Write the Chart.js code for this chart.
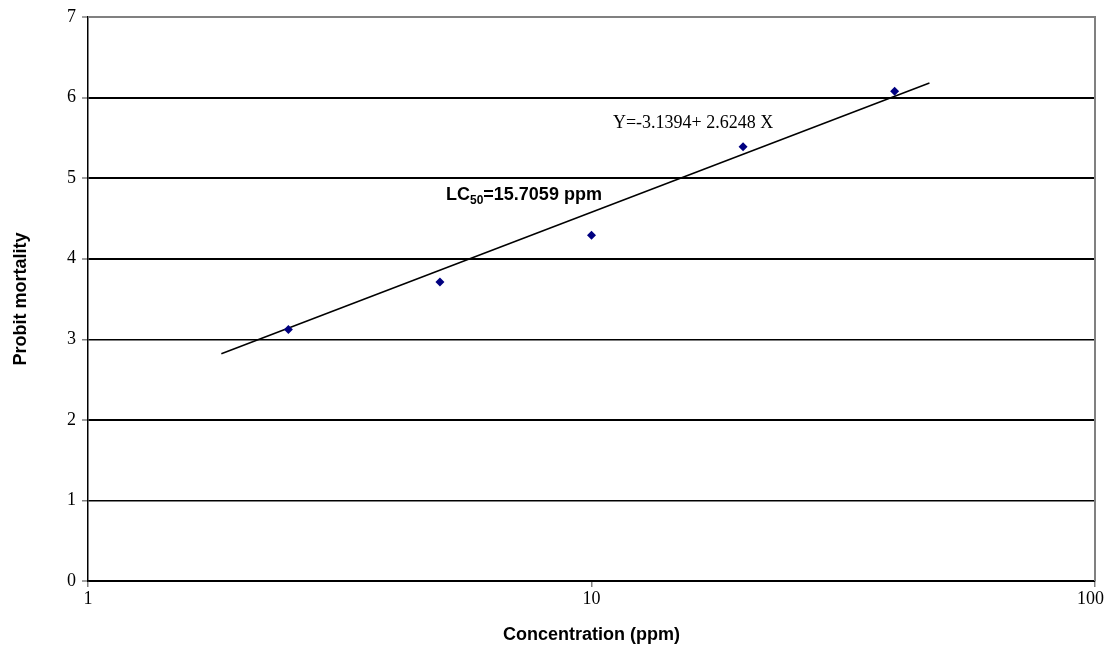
<!DOCTYPE html>
<html>
<head>
<meta charset="utf-8">
<script src="https://cdn.jsdelivr.net/npm/chart.js@4.4.1/dist/chart.umd.min.js"></script>
<style>
html,body{margin:0;padding:0;background:#fff;}
#wrap{width:1105px;height:646px;position:relative;}
</style>
</head>
<body>
<div id="wrap"><canvas id="c" width="1105" height="646"></canvas></div>
<script>
// Data
const concentrations = [2.5, 5, 10, 20, 40];
const probitValues = [3.12, 3.71, 4.29, 5.39, 6.08];
const fitLineX = [1.84, 46.9];
const fitLineY = [2.82, 6.18];
const xTickValues = [1, 10, 100];
const yTickValues = [0, 1, 2, 3, 4, 5, 6, 7];
const equationText = "Y=-3.1394+ 2.6248 X";
const lcMain = "LC";
const lcSub = "50";
const lcRest = "=15.7059 ppm";

const points = concentrations.map((x, i) => ({x: x, y: probitValues[i]}));
const fitLine = fitLineX.map((x, i) => ({x: x, y: fitLineY[i]}));

const annotations = {
  id: 'annotations',
  afterDatasetsDraw(chart) {
    const ctx = chart.ctx;
    const xs = chart.scales.x, ys = chart.scales.y;
    const a = chart.chartArea;
    ctx.save();
    // plot border (grey top/right)
    ctx.strokeStyle = '#808080';
    ctx.lineWidth = 2;
    ctx.beginPath();
    ctx.moveTo(a.left, a.top);
    ctx.lineTo(a.right, a.top);
    ctx.lineTo(a.right, a.bottom);
    ctx.stroke();
    // equation
    ctx.fillStyle = '#000';
    ctx.font = '18px "Liberation Serif", "Times New Roman", serif';
    ctx.textBaseline = 'alphabetic';
    ctx.textAlign = 'left';
    ctx.fillText(equationText, xs.getPixelForValue(11.03), ys.getPixelForValue(5.62));
    // LC50
    ctx.font = 'bold 18px "Liberation Sans", Arial, sans-serif';
    let px = xs.getPixelForValue(5.14);
    const py = ys.getPixelForValue(4.73);
    ctx.fillText(lcMain, px, py);
    px += ctx.measureText(lcMain).width;
    ctx.font = 'bold 12px "Liberation Sans", Arial, sans-serif';
    ctx.fillText(lcSub, px, py + 4);
    px += ctx.measureText(lcSub).width;
    ctx.font = 'bold 18px "Liberation Sans", Arial, sans-serif';
    ctx.fillText(lcRest, px, py);
    ctx.restore();
  }
};

new Chart(document.getElementById('c'), {
  type: 'scatter',
  data: {
    datasets: [
      {
        label: 'Probit',
        data: points,
        pointStyle: 'rectRot',
        pointRadius: 4.5,
        backgroundColor: '#000080',
        borderColor: '#000080',
        borderWidth: 0,
        showLine: false,
        order: 1
      },
      {
        label: 'Fit',
        data: fitLine,
        showLine: true,
        borderColor: '#000',
        borderWidth: 1.5,
        pointRadius: 0,
        fill: false,
        order: 2
      }
    ]
  },
  plugins: [annotations],
  options: {
    responsive: false,
    animation: false,
    devicePixelRatio: 1,
    layout: {padding: {top: 17, right: 10, left: 0, bottom: 0}},
    plugins: {legend: {display: false}, tooltip: {enabled: false}},
    scales: {
      x: {
        type: 'logarithmic',
        min: 1,
        max: 100,
        afterBuildTicks(scale) { scale.ticks = xTickValues.map(v => ({value: v})); },
        afterFit(scale) { scale.height = 65; scale.paddingLeft = 0; scale.paddingRight = 0; },
        border: {display: true, color: '#000', width: 1.5},
        grid: {display: true, drawOnChartArea: false, drawTicks: true, tickLength: 6, color: '#808080', lineWidth: 1.5},
        ticks: {
          color: '#000',
          font: {family: '"Liberation Serif", "Times New Roman", serif', size: 18},
          padding: 1,
          maxRotation: 0,
          autoSkip: false,
          callback: (v) => v === 100 ? '100\u2002' : String(v)
        },
        title: {
          display: true,
          text: 'Concentration (ppm)',
          color: '#000',
          font: {family: '"Liberation Sans", Arial, sans-serif', size: 18, weight: 'bold'},
          padding: {top: 0, bottom: 0}
        }
      },
      y: {
        min: 0,
        max: 7,
        afterBuildTicks(scale) { scale.ticks = yTickValues.map(v => ({value: v})); },
        afterFit(scale) { scale.width = 88; scale.paddingTop = 0; scale.paddingBottom = 0; },
        border: {display: true, color: '#000', width: 1.5},
        grid: {
          color: (ctx) => ctx.tick && ctx.tick.value === 7 ? '#808080' : '#000',
          lineWidth: (ctx) => (ctx.tick && (ctx.tick.value === 1 || ctx.tick.value === 3)) ? 1.5 : 2,
          tickLength: 6,
          tickColor: '#808080',
          tickWidth: 1.5
        },
        ticks: {
          color: '#000',
          font: {family: '"Liberation Serif", "Times New Roman", serif', size: 18},
          padding: 6,
          callback: (v) => String(v)
        },
        title: {
          display: true,
          text: 'Probit mortality',
          color: '#000',
          font: {family: '"Liberation Sans", Arial, sans-serif', size: 18, weight: 'bold'},
          padding: {top: 10, bottom: 0}
        }
      }
    }
  }
});
</script>
</body>
</html>
